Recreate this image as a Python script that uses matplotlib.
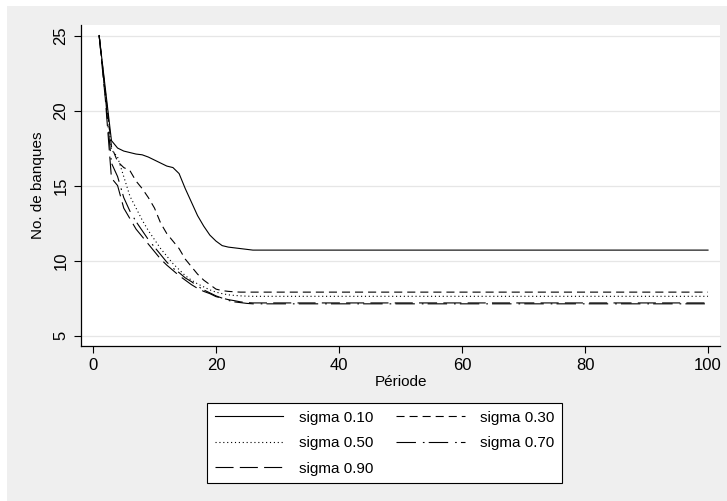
import matplotlib
matplotlib.use("Agg")
import matplotlib.pyplot as plt
from matplotlib.patches import Rectangle
from matplotlib import font_manager
import numpy as np

## Data
periods = list(range(1, 101))

sigma_10 = [25.0, 21.5, 18.0, 17.5, 17.3, 17.2, 17.1, 17.05, 16.9, 16.7,
            16.5, 16.3, 16.2, 15.8, 14.8, 13.9, 13.0, 12.3, 11.7, 11.3,
            11.0, 10.9, 10.85, 10.8, 10.75] + [10.7] * 75
sigma_30 = [25.0, 21.3, 17.6, 16.6, 16.2, 16.0, 15.3, 14.8, 14.2, 13.5,
            12.5, 11.8, 11.3, 10.8, 10.1, 9.6, 9.1, 8.7, 8.4, 8.1,
            8.0, 7.95, 7.92, 7.9, 7.9] + [7.9] * 75
sigma_50 = [25.0, 21.2, 17.4, 16.9, 15.6, 14.3, 13.5, 12.7, 12.0, 11.4,
            10.8, 10.3, 9.8, 9.4, 9.0, 8.7, 8.45, 8.25, 8.05, 7.9,
            7.8, 7.72, 7.68, 7.65, 7.63] + [7.62] * 75
sigma_70 = [25.0, 21.0, 16.5, 15.6, 14.2, 13.3, 12.6, 12.0, 11.4, 10.9,
            10.4, 9.9, 9.5, 9.2, 8.85, 8.6, 8.3, 8.05, 7.85, 7.65,
            7.5, 7.35, 7.25, 7.2, 7.15] + [7.12] * 75
sigma_90 = [25.0, 20.8, 15.5, 15.0, 13.5, 12.8, 12.1, 11.6, 11.1, 10.6,
            10.1, 9.7, 9.35, 9.0, 8.7, 8.4, 8.15, 7.95, 7.8, 7.6,
            7.5, 7.4, 7.33, 7.25, 7.2] + [7.18] * 75

labels = ["sigma 0.10", "sigma 0.30", "sigma 0.50", "sigma 0.70", "sigma 0.90"]
series = [sigma_10, sigma_30, sigma_50, sigma_70, sigma_90]
styles = ["-", (0, (5.8, 3.6)), (0, (0.8, 2.0)), (0, (14, 5, 1.2, 3)), (0, (13, 4.5))]

plt.rcParams['font.family'] = ['Liberation Sans', 'DejaVu Sans']
plt.rcParams['lines.scale_dashes'] = False

# narrow face for the tick numbers if it is there
names = {f.name for f in font_manager.fontManager.ttflist}
tick_family = 'Liberation Sans Narrow' if 'Liberation Sans Narrow' in names else 'Liberation Sans'

fig = plt.figure(figsize=(7.27, 5.01), dpi=100)
fig.patch.set_facecolor('white')
# grey graph region (the top strip stays white)
fig.patches.append(Rectangle((7 / 727, 0), 1, 1 - 6 / 501, transform=fig.transFigure,
                             facecolor='#efefef', edgecolor='none', zorder=-10))

ax = fig.add_axes([81 / 727, 1 - 346 / 501, (720 - 81) / 727, (346 - 25) / 501])
ax.set_facecolor('white')

lines = []
for vals, st, lab in zip(series, styles, labels):
    ln, = ax.plot(periods, vals, color='black', linestyle=st, linewidth=0.8, label=lab)
    lines.append(ln)

ax.set_xlim(-1.95, 101.95)
ax.set_ylim(4.31, 25.7)
ax.set_xticks([0, 20, 40, 60, 80, 100])
ax.set_yticks([5, 10, 15, 20, 25])
ax.grid(axis='y', color='#e6e6e6', linewidth=0.9)
ax.set_axisbelow(True)

for s in ['top', 'right']:
    ax.spines[s].set_visible(False)
for s in ['left', 'bottom']:
    ax.spines[s].set_linewidth(0.9)

ax.tick_params(direction='out', length=5, width=0.8, labelsize=12, pad=4)
for lbl in ax.get_xticklabels() + ax.get_yticklabels():
    lbl.set_family(tick_family)
for lbl in ax.get_yticklabels():
    lbl.set_rotation(90)
    lbl.set_va('center')

ax.set_xlabel("Période", fontsize=11, labelpad=1)
ax.set_ylabel("No. de banques", fontsize=11, labelpad=6)

# legend filled column-first, so reorder to read row by row
order = [0, 2, 4, 1, 3]
leg = fig.legend([lines[i] for i in order], [labels[i] for i in order],
                 ncol=2, loc='upper left', bbox_to_anchor=(207 / 727, 1 - 403 / 501),
                 frameon=True, fancybox=False, edgecolor='black', facecolor='white',
                 framealpha=1, fontsize=11, handlelength=4.5, handletextpad=1.0,
                 columnspacing=1.5, labelspacing=0.75, borderpad=0.5, borderaxespad=0)
leg.get_frame().set_linewidth(0.8)

fig.savefig("out.png", dpi=100, facecolor=fig.get_facecolor())
